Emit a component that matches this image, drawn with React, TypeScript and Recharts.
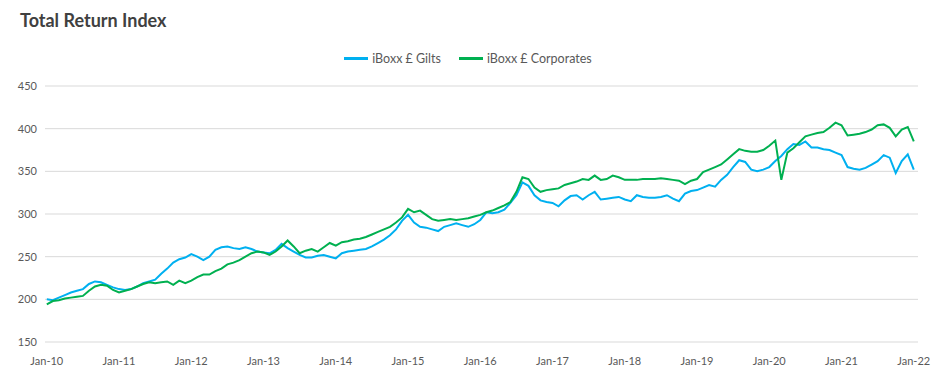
import { LineChart, Line, XAxis, YAxis, CartesianGrid } from "recharts";

// monthly readings, Jan-10 .. Jan-22 (145 points each)
const gilts = [
  200, 199, 202, 205, 208, 210, 212, 218, 221, 220, 217, 214,
  212, 211, 212, 215, 219, 221, 223, 230, 236, 243, 247, 249,
  253, 250, 246, 250, 258, 261, 262, 260, 259, 261, 259, 256,
  255, 254, 258, 265, 260, 256, 252, 249, 249, 251, 252, 250,
  248, 254, 256, 257, 258, 259, 262, 266, 270, 275, 282, 292,
  299, 290, 285, 284, 282, 280, 285, 287, 289, 287, 285, 288,
  293, 302, 301, 302, 305, 313, 322, 337, 333, 322, 316, 314,
  313, 309, 316, 321, 322, 317, 322, 326, 317, 318, 319, 320,
  317, 315, 322, 320, 319, 319, 320, 322, 318, 315, 324, 327,
  328, 331, 334, 332, 340, 346, 355, 363, 361, 352, 350, 352,
  355, 362, 368, 376, 382, 381, 385, 378, 378, 376, 375, 372,
  369, 355, 353, 352, 354, 358, 362, 369, 366, 348, 362, 370,
  352,
];

const corporates = [
  194, 198, 199, 201, 202, 203, 204, 210, 215, 217, 216, 211,
  208, 210, 212, 215, 218, 220, 219, 220, 221, 217, 222, 219,
  222, 226, 229, 229, 233, 236, 241, 243, 246, 250, 254, 256,
  255, 252, 256, 262, 269, 262, 254, 257, 259, 256, 261, 266,
  263, 267, 268, 270, 271, 273, 276, 279, 282, 285, 290, 296,
  306, 302, 304, 299, 294, 292, 293, 294, 293, 294, 295, 297,
  299, 302, 304, 307, 310, 314, 326, 343, 341, 331, 326, 328,
  329, 330, 334, 336, 338, 341, 340, 345, 340, 341, 345, 343,
  340, 340, 340, 341, 341, 341, 342, 341, 340, 339, 335, 339,
  341, 349, 352, 355, 358, 364, 370, 376, 374, 373, 373, 375,
  380, 386, 340, 372, 377, 384, 391, 393, 395, 396, 401, 407,
  404, 392, 393, 394, 396, 399, 404, 405, 401, 391, 399, 402,
  385,
];

const yTicks = [150, 200, 250, 300, 350, 400, 450];
const xTicks = [0, 12, 24, 36, 48, 60, 72, 84, 96, 108, 120, 132, 144];

const seriesNames = { gilts: "iBoxx £ Gilts", corporates: "iBoxx £ Corporates" };
const GILTS_COLOR = "#00b0f0";
const CORP_COLOR = "#00b050";

const rows = gilts.map((g, i) => ({ m: i, gilts: g, corporates: corporates[i] }));

const fmtMonth = (m: number) => `Jan-${10 + Math.round(m / 12)}`;

function LegendBox() {
  const items = [
    { name: seriesNames.gilts, color: GILTS_COLOR },
    { name: seriesNames.corporates, color: CORP_COLOR },
  ];
  return (
    <div style={{ position: "absolute", top: 51, left: 0, width: 936, display: "flex", justifyContent: "center", gap: 18 }}>
      {items.map((it) => (
        <div key={it.name} style={{ display: "flex", alignItems: "center", fontSize: 12.5, color: "#595959" }}>
          <span style={{ display: "inline-block", width: 24, height: 3, background: it.color, marginRight: 4 }} />
          {it.name}
        </div>
      ))}
    </div>
  );
}

export default function App() {
  return (
    <div style={{ position: "absolute", left: 0, top: 0, width: 936, height: 384, background: "#fff", fontFamily: "Lato, sans-serif" }}>
      <div style={{ position: "absolute", left: 20, top: 9, fontSize: 18, fontWeight: 700, color: "#404040" }}>
        Total Return Index
      </div>
      <LegendBox />
      <LineChart width={936} height={384} data={rows} margin={{ top: 86, right: 18, bottom: 12, left: 0 }}>
        <CartesianGrid vertical={false} stroke="#d9d9d9" />
        <XAxis
          dataKey="m"
          type="number"
          domain={[-0.3, 144.7]}
          ticks={xTicks}
          tickFormatter={fmtMonth}
          axisLine={false}
          tickLine={false}
          tickMargin={9}
          height={30}
          tick={{ fontSize: 11, fill: "#595959" }}
        />
        <YAxis
          domain={[150, 450]}
          ticks={yTicks}
          axisLine={false}
          tickLine={false}
          width={45}
          tick={{ fontSize: 11, fill: "#595959" }}
        />
        <Line type="linear" dataKey="gilts" name={seriesNames.gilts} stroke={GILTS_COLOR} strokeWidth={2} dot={false} isAnimationActive={false} />
        <Line type="linear" dataKey="corporates" name={seriesNames.corporates} stroke={CORP_COLOR} strokeWidth={2} dot={false} isAnimationActive={false} />
      </LineChart>
    </div>
  );
}
